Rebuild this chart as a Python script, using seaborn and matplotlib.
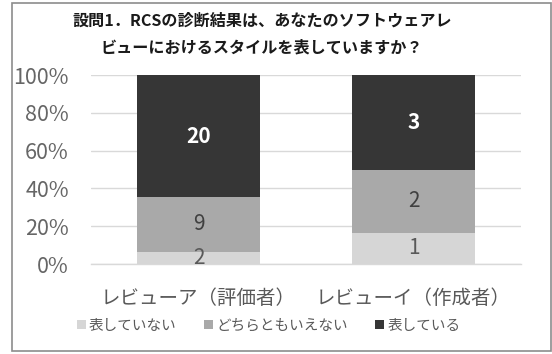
import numpy as np
import pandas as pd
import matplotlib
matplotlib.use("Agg")
import matplotlib.pyplot as plt
from matplotlib.patches import Rectangle, Patch
import seaborn as sns

# Survey answers per respondent group
categories = ["レビューア（評価者）", "レビューイ（作成者）"]
series_names = ["表していない", "どちらともいえない", "表している"]
not_represent = [2, 1]
neutral = [9, 2]
represent = [20, 3]
y_ticks = [0, 20, 40, 60, 80, 100]
y_tick_labels = ["0%", "20%", "40%", "60%", "80%", "100%"]
title_text = "設問1．RCSの診断結果は、あなたのソフトウェアレ\nビューにおけるスタイルを表していますか？"

colors = ["#d6d6d6", "#a9a9a9", "#363636"]
label_colors = ["#595959", "#404040", "white"]

sns.set_theme(style="white")
plt.rcParams["font.family"] = ["Noto Sans CJK JP", "DejaVu Sans"]

counts = np.array([not_represent, neutral, represent], dtype=float)
totals = counts.sum(axis=0)
shares = counts / totals * 100
cum = np.cumsum(shares, axis=0)

fig = plt.figure(figsize=(5.52, 3.54), dpi=100)
ax = fig.add_axes([0.165, 0.254, 0.779, 0.534])

# Draw stacked bars back-to-front using cumulative heights
for i in reversed(range(3)):
    df = pd.DataFrame({"cat": categories, "val": cum[i]})
    sns.barplot(data=df, x="cat", y="val", color=colors[i], width=0.57,
                saturation=1, ax=ax, linewidth=0, zorder=2)

# Segment value labels
for j in range(len(categories)):
    for i in range(3):
        bottom = cum[i - 1][j] if i > 0 else 0
        mid = bottom + shares[i, j] / 2
        ax.text(j, mid, f"{int(counts[i, j])}", ha="center", va="center",
                fontsize=15, color=label_colors[i],
                fontweight="bold" if i == 2 else "normal", zorder=3)

ax.set_ylim(0, 100)
ax.set_xlim(-0.5, 1.5)
ax.set_yticks(y_ticks)
ax.set_yticklabels(y_tick_labels, fontsize=15.5, color="#666666")
ax.tick_params(axis="y", length=0, pad=16)
ax.tick_params(axis="x", length=0, labelsize=14, colors="#595959", pad=17)
ax.set_xlabel("")
ax.set_ylabel("")
ax.yaxis.grid(True, color="#d9d9d9", linewidth=1)
ax.set_axisbelow(True)
for s in ["top", "right", "left"]:
    ax.spines[s].set_visible(False)
ax.spines["bottom"].set_color("#d9d9d9")
ax.spines["bottom"].set_linewidth(1)

fig.text(0.475, 0.903, title_text, ha="center", va="center", fontsize=11.6,
         fontweight="bold", color="#1a1a1a", linespacing=1.8)

handles = [Patch(facecolor=c, edgecolor="none") for c in colors]
fig.legend(handles, series_names, loc="center", bbox_to_anchor=(0.487, 0.08),
           ncol=3, frameon=False, fontsize=10.5, handlelength=0.6, handleheight=0.6,
           handletextpad=0.2, columnspacing=1.9, labelcolor="#595959")

# Outer chart frame
fig.patches.append(Rectangle((12 / 552, 3 / 354), 539 / 552, 348 / 354,
                             transform=fig.transFigure, fill=False,
                             edgecolor="#8c8c8c", linewidth=1.2))

fig.savefig("out.png", dpi=100)
